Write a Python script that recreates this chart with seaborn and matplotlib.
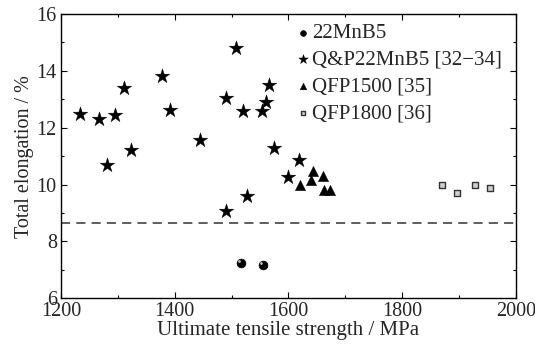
import numpy as np
import pandas as pd
import seaborn as sns
import matplotlib.pyplot as plt
from matplotlib.ticker import MultipleLocator

sns.set_style("ticks")
plt.rcParams['font.family'] = ['Liberation Serif', 'DejaVu Serif']

# data
mnb5_uts = [1517, 1555]
mnb5_el = [7.24, 7.16]

qp_uts = [1233, 1267, 1281, 1295, 1310, 1324, 1378, 1391, 1444, 1490,
          1491, 1508, 1520, 1527, 1554, 1560, 1566, 1574, 1600, 1618]
qp_el = [12.50, 12.29, 10.68, 12.44, 13.40, 11.21, 13.83, 12.62, 11.56, 13.05,
         9.06, 14.79, 12.60, 9.60, 12.60, 12.89, 13.50, 11.30, 10.28, 10.88]

qfp15_uts = [1620, 1639, 1643, 1661, 1663, 1674]
qfp15_el = [10.00, 10.17, 10.46, 10.29, 9.79, 9.79]

qfp18_uts = [1870, 1897, 1929, 1954]
qfp18_el = [9.98, 9.69, 9.98, 9.86]

ref_el = 8.63

labels = ['22MnB5', 'Q&P22MnB5 [32\u221234]', 'QFP1500 [35]', 'QFP1800 [36]']

fig = plt.figure(figsize=(5.35, 3.52), dpi=100)
ax = fig.add_axes([0.114, 0.153, 0.850, 0.807])

ax.axhline(ref_el, color='#333333', lw=1.1, ls=(0, (6, 4)), zorder=1)

sns.scatterplot(x=mnb5_uts, y=mnb5_el, marker='o', s=40, color='black',
                edgecolor='black', linewidth=0.5, label=labels[0], ax=ax, zorder=3)
sns.scatterplot(x=qp_uts, y=qp_el, marker='*', s=120, color='black',
                edgecolor='black', linewidth=0.3, label=labels[1], ax=ax, zorder=3)
sns.scatterplot(x=qfp15_uts, y=qfp15_el, marker='^', s=55, color='black',
                edgecolor='black', linewidth=0.3, label=labels[2], ax=ax, zorder=3)
sns.scatterplot(x=qfp18_uts, y=qfp18_el, marker='s', s=20, color='#cfcfcf',
                edgecolor='#333333', linewidth=1.0, label=labels[3], ax=ax, zorder=3)

# little highlight on the balls
sns.scatterplot(x=[u - 3 for u in mnb5_uts], y=[e + 0.06 for e in mnb5_el],
                marker='o', s=4, color='#bbbbbb', linewidth=0, ax=ax, zorder=4,
                legend=False)

ax.set_xlim(1200, 2000)
ax.set_ylim(6, 16)
ax.xaxis.set_major_locator(MultipleLocator(200))
ax.xaxis.set_minor_locator(MultipleLocator(100))
ax.yaxis.set_major_locator(MultipleLocator(2))
ax.yaxis.set_minor_locator(MultipleLocator(1))
ax.tick_params(which='both', direction='in', top=True, right=True,
               labelsize=14.5, width=0.8, color='black')
ax.tick_params(which='major', length=4, pad=3)
ax.tick_params(which='minor', length=2.5)
for sp in ax.spines.values():
    sp.set_linewidth(1.0)
    sp.set_color('black')

ax.set_xlabel('Ultimate tensile strength / MPa', fontsize=15, labelpad=0)
ax.set_ylabel('Total elongation / %', fontsize=14.5, labelpad=2)

leg = ax.legend(loc='upper left', bbox_to_anchor=(0.49, 1.0), frameon=False,
                fontsize=15, handletextpad=0.0, labelspacing=0.35,
                borderaxespad=0.05, handlelength=0.9, markerscale=0.65)

fig.savefig('out.png', dpi=100)
